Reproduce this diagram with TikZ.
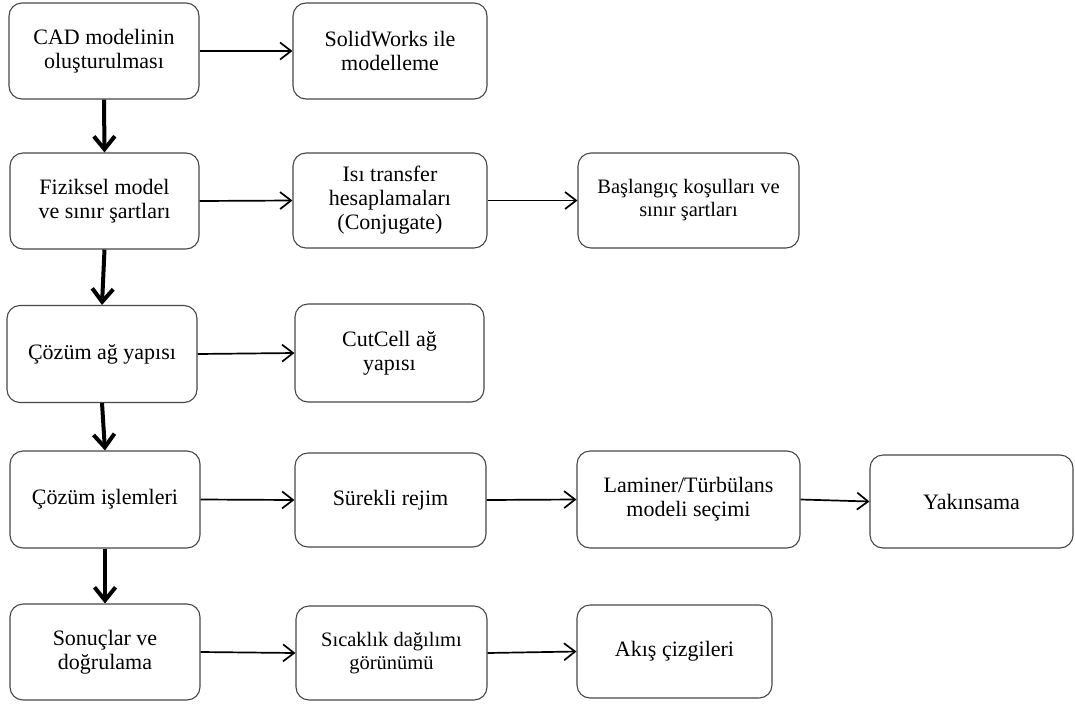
\documentclass[tikz,border=0pt]{standalone}
\usepackage{fontspec}
\setmainfont{Liberation Serif}
\usetikzlibrary{arrows.meta}
\begin{document}
\begin{tikzpicture}[x=1pt,y=-1pt,
  box/.style={draw=black!72, line width=1.1pt, rounded corners=13pt, align=center,
    inner sep=0pt, font=\fontsize{22}{24}\selectfont},
  smallbox/.style={box, font=\fontsize{20.5}{23}\selectfont},
  flow/.style={line width=1.7pt, -{Straight Barb[length=11pt,width=17pt,line width=1.7pt]}},
  mainflow/.style={line width=4pt, -{Straight Barb[length=13pt,width=21pt,line width=4pt]}}
]
\useasboundingbox (0,0) rectangle (1075,704);
% column 1
\node[box, minimum width=190pt, minimum height=96pt] (A) at (104,51) {CAD modelinin\\oluşturulması};
\node[box, minimum width=189pt, minimum height=96pt] (C) at (104.5,201) {Fiziksel model\\ve sınır şartları};
\node[box, minimum width=190pt, minimum height=97pt] (F) at (102,354) {Çözüm ağ yapısı};
\node[box, minimum width=190pt, minimum height=97pt] (H) at (105,499.5) {Çözüm işlemleri};
\node[box, minimum width=190pt, minimum height=96pt] (L) at (105,652) {Sonuçlar ve\\doğrulama};
% column 2
\node[box, minimum width=194pt, minimum height=96pt] (B) at (390,51) {SolidWorks ile\\modelleme};
\node[box, minimum width=194pt, minimum height=95pt] (D) at (390,200.5) {Isı transfer\\hesaplamaları\\(Conjugate)};
\node[box, minimum width=189pt, minimum height=98pt] (G) at (389.5,353) {CutCell ağ\\yapısı};
\node[box, minimum width=191pt, minimum height=94pt] (I) at (390.5,500) {Sürekli rejim};
\node[smallbox, minimum width=191pt, minimum height=94pt] (M) at (391.5,653) {Sıcaklık dağılımı\\görünümü};
% column 3
\node[smallbox, minimum width=221pt, minimum height=95pt] (E) at (688.5,200.5) {Başlangıç koşulları ve\\sınır şartları};
\node[box, minimum width=223pt, minimum height=97pt] (J) at (688.5,499.5) {Laminer/Türbülans\\modeli seçimi};
\node[box, minimum width=195pt, minimum height=93pt] (N) at (674.5,651.5) {Akış çizgileri};
% column 4
\node[box, minimum width=203pt, minimum height=93pt] (K) at (971.5,501.5) {Yakınsama};
% main vertical flow
\draw[mainflow] (A.south) -- (C.north);
\draw[mainflow] (C.south) -- (F.north);
\draw[mainflow] (F.south) -- (H.north);
\draw[mainflow] (H.south) -- (L.north);
% side flows
\draw[flow] (A.east) -- (B.west);
\draw[flow] (C.east) -- (D.west);
\draw[flow] (D.east) -- (E.west);
\draw[flow] (F.east) -- (G.west);
\draw[flow] (H.east) -- (I.west);
\draw[flow] (I.east) -- (J.west);
\draw[flow] (J.east) -- (K.west);
\draw[flow] (L.east) -- (M.west);
\draw[flow] (M.east) -- (N.west);
\end{tikzpicture}
\end{document}
